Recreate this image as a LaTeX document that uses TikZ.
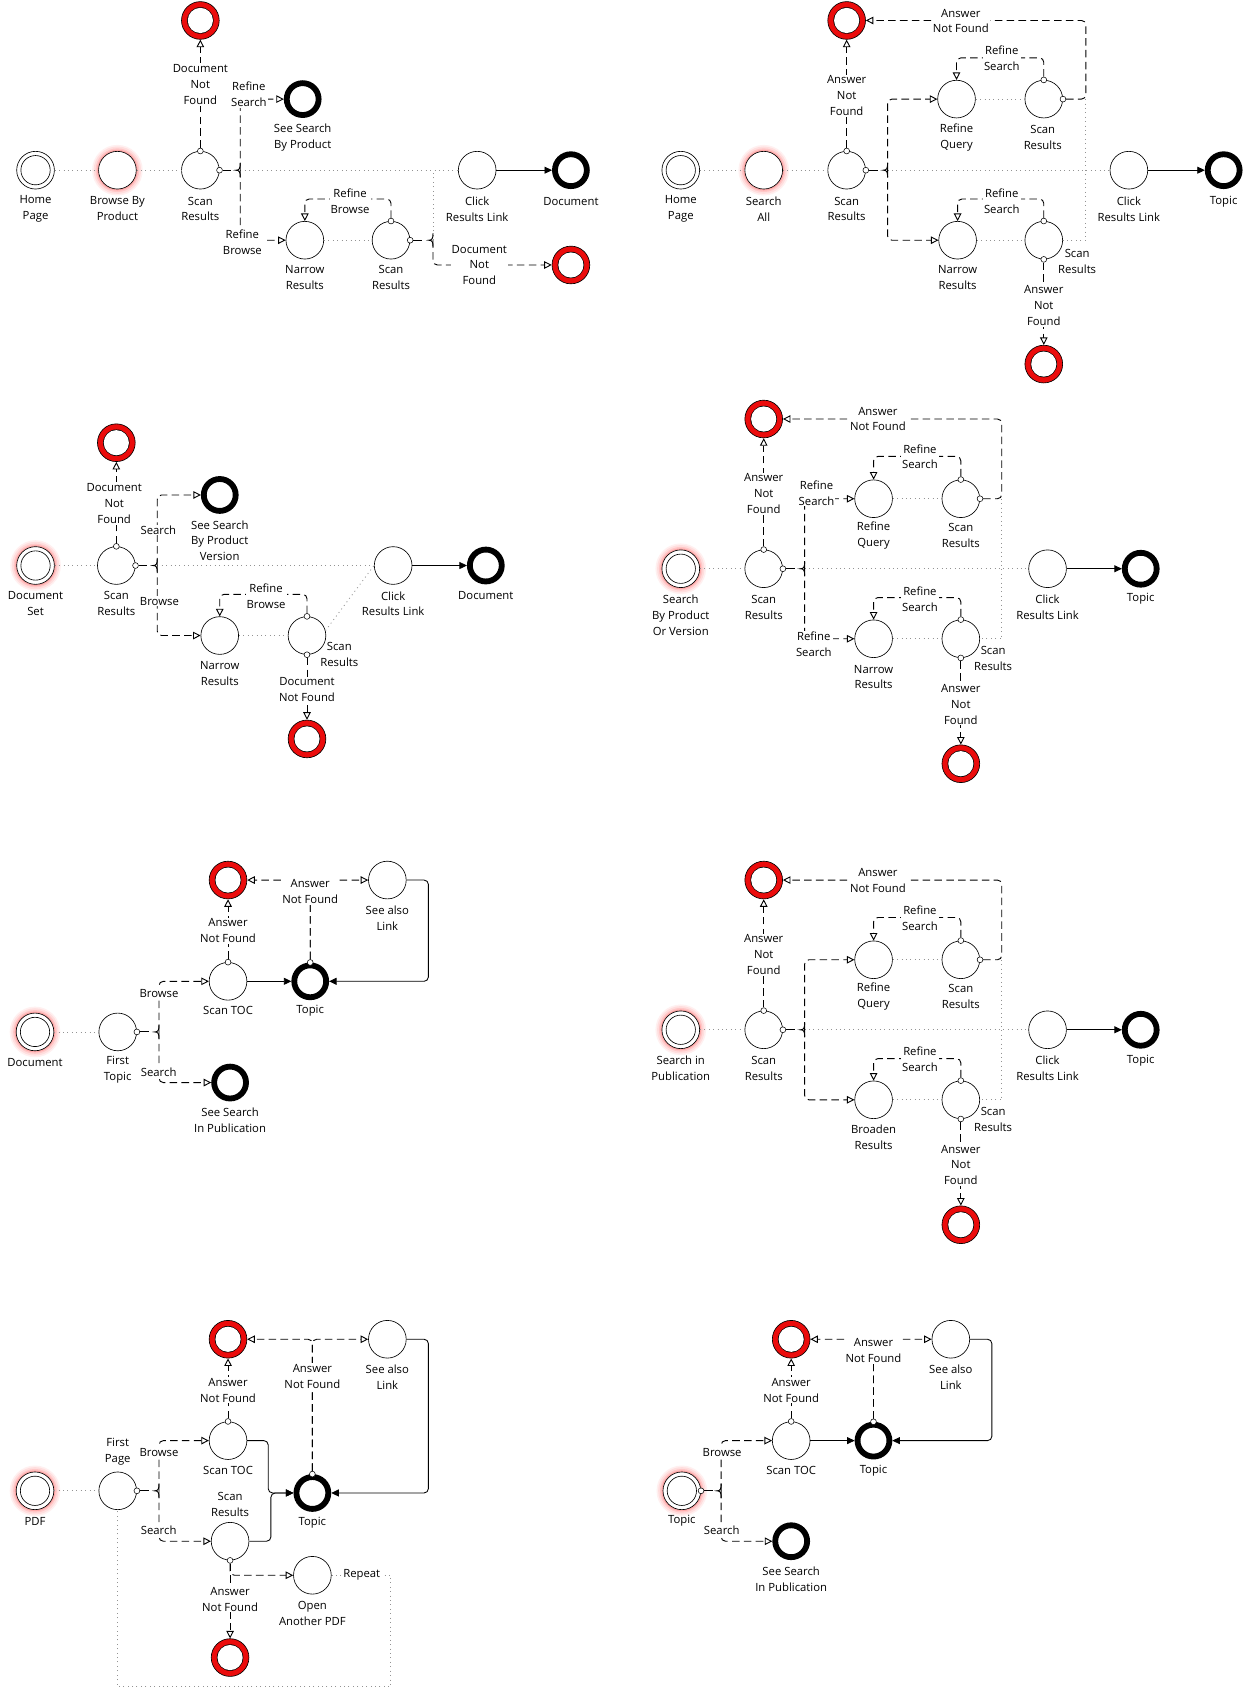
\documentclass[tikz,border=0pt]{standalone}
\usepackage{fontspec}
\setmainfont{Open Sans}
\usetikzlibrary{arrows.meta,calc}
\definecolor{endred}{RGB}{235,12,12}
\newcommand\lbf{\fontsize{10.5pt}{14.8pt}\selectfont}
\newcommand\glow[1]{\fill[red!6] #1 circle[radius=23.5pt]; \fill[red!13] #1 circle[radius=22pt]; \fill[red!22] #1 circle[radius=20.3pt]; \fill[red!34] #1 circle[radius=18.9pt];}
\newcommand\fork[1]{\draw[conn] ($(#1)+(0,-6.5)$) .. controls ($(#1)+(0,-1.5)$) and ($(#1)+(-0.8,0)$) .. ($(#1)+(-4,0)$) .. controls ($(#1)+(-0.8,0)$) and ($(#1)+(0,1.5)$) .. ($(#1)+(0,6.5)$);}
\tikzset{
 act/.style={circle, draw, line width=0.6pt, fill=white, minimum size=35pt, inner sep=0pt},
 startn/.style={act, path picture={\draw[line width=0.6pt] (path picture bounding box.center) circle[radius=13.6pt];}},
 fail/.style={circle, draw, line width=0.6pt, fill=endred, minimum size=35pt, inner sep=0pt, path picture={\fill[black] (path picture bounding box.center) circle[radius=12.3pt]; \fill[white] (path picture bounding box.center) circle[radius=11.7pt];}},
 okend/.style={circle, draw, line width=5.4pt, fill=white, minimum size=29.6pt, inner sep=0pt},
 port/.style={circle, draw, line width=0.5pt, fill=white, minimum size=5.4pt, inner sep=0pt},
 lbl/.style={align=center, font=\lbf, inner sep=1pt},
 onl/.style={lbl, fill=white},
 seq/.style={draw=gray!85, line width=0.75pt, dash pattern=on 0.9pt off 3.2pt},
 alt/.style={draw, line width=0.85pt, dash pattern=on 7pt off 4pt, rounded corners=4pt, -{Triangle[length=7pt,width=7pt,fill=white]}},
 flow/.style={draw, line width=0.8pt, rounded corners=4pt, -{Triangle[length=7pt,width=6.5pt]}},
 conn/.style={draw, line width=0.85pt},
}
\begin{document}
\begin{tikzpicture}[x=1pt,y=-1pt]
\useasboundingbox (0,0) rectangle (1156,1568);
\fill[white] (0,0) rectangle (1156,1568);

% ================= Diagram A =================
\glow{(109,158)}
\node[startn] (HA) at (33,158) {};
\node[act] (BA) at (109,158) {};
\node[act] (SA1) at (186,158) {};
\node[fail] (EA1) at (186,19) {};
\node[okend] (SSA) at (281,92) {};
\node[act] (NA) at (283,223) {};
\node[act] (SA2) at (363,223) {};
\node[act] (CA) at (443,158) {};
\node[okend] (DA) at (530,158) {};
\node[fail] (EA2) at (530,246) {};
\coordinate (fA) at (223,158);
\coordinate (fA2) at (402,223);
\coordinate (jA) at (402,158);
\draw[seq] (HA) -- (BA);
\draw[seq] (BA) -- (SA1);
\draw[seq] (fA) -- (CA);
\draw[seq] (NA) -- (SA2);
\draw[seq] (fA2) -- (jA);
\node[port] (pA1n) at (SA1.north) {};
\node[port] (pA1e) at (SA1.east) {};
\node[port] (pA2n) at (SA2.north) {};
\node[port] (pA2e) at (SA2.east) {};
\draw[alt] (pA1n.north) -- (EA1.south);
\draw[conn] (pA1e.east) -- ++(8,0);
\fork{fA}
\draw[alt] (fA) |- (SSA.west);
\draw[alt] (fA) |- (NA.west);
\draw[alt] (pA2n.north) -- ++(0,-17.5) -| (NA.north);
\draw[conn] (pA2e.east) -- ++(8,0);
\fork{fA2}
\draw[alt] (fA2) |- (EA2.west);
\draw[flow] (CA) -- (DA);
\node[lbl] (tA1) at (33,194) {Home\\Page};
\node[lbl] (tA2) at (109,194) {Browse By\\Product};
\node[lbl] (tA3) at (186,194) {Scan\\Results};
\node[onl] (tA4) at (186,78.5) {Document\\Not\\Found};
\node[onl] (tA5) at (231,87.5) {Refine\\Search};
\node[lbl] (tA6) at (281,127.5) {See Search\\By Product};
\node[onl] (tA7) at (225,224.5) {Refine\\Browse};
\node[lbl] (tA8) at (283,258) {Narrow\\Results};
\node[lbl] (tA9) at (363,258) {Scan\\Results};
\node[onl] (tA10) at (325,186.5) {Refine\\Browse};
\node[lbl] (tA11) at (443,194) {Click\\Results Link};
\node[lbl] (tA12) at (530,187) {Document};
\node[onl] (tA13) at (445,246) {Document\\Not\\Found};

% ================= Diagram B =================
\glow{(709,158)}
\node[startn] (HB) at (632,158) {};
\node[act] (SB) at (709,158) {};
\node[act] (SB1) at (786,158) {};
\node[fail] (EB1) at (786,19) {};
\node[act] (RQB) at (888,92) {};
\node[act] (SB2) at (969,92) {};
\node[act] (NB) at (889,223) {};
\node[act] (SB3) at (969,223) {};
\node[fail] (EB2) at (969,338) {};
\node[act] (CB) at (1048,158) {};
\node[okend] (TB) at (1136,158) {};
\coordinate (fB) at (824,158);
\coordinate (jB) at (1008,92);
\draw[seq] (HB) -- (SB);
\draw[seq] (SB) -- (SB1);
\draw[seq] (fB) -- (CB);
\draw[seq] (RQB) -- (SB2);
\draw[seq] (NB) -- (SB3);
\draw[seq] (jB) |- (SB3.east);
\node[port] (pB1n) at (SB1.north) {};
\node[port] (pB1e) at (SB1.east) {};
\node[port] (pB2n) at (SB2.north) {};
\node[port] (pB2e) at (SB2.east) {};
\node[port] (pB3n) at (SB3.north) {};
\node[port] (pB3s) at (SB3.south) {};
\draw[alt] (pB1n.north) -- (EB1.south);
\draw[conn] (pB1e.east) -- ++(8,0);
\fork{fB}
\draw[alt] (fB) |- (RQB.west);
\draw[alt] (fB) |- (NB.west);
\draw[alt] (pB2n.north) -- ++(0,-17.5) -| (RQB.north);
\draw[alt] (pB2e.east) -- (jB) |- (EB1.east);
\draw[alt] (pB3n.north) -- ++(0,-17.5) -| (NB.north);
\draw[alt] (pB3s.south) -- (EB2.north);
\draw[flow] (CB) -- (TB);
\node[lbl] (tB1) at (632,194) {Home\\Page};
\node[lbl] (tB2) at (709,194) {Search\\All};
\node[lbl] (tB3) at (786,194) {Scan\\Results};
\node[onl] (tB4) at (786,89) {Answer\\Not\\Found};
\node[lbl] (tB5) at (888,128) {Refine\\Query};
\node[lbl] (tB6) at (968,128) {Scan\\Results};
\node[onl] (tB7) at (930,54) {Refine\\Search};
\node[onl] (tB8) at (892,19.5) {Answer\\Not Found};
\node[lbl] (tB9) at (889,258) {Narrow\\Results};
\node[lbl] (tB10) at (1000,242.5) {Scan\\Results};
\node[onl] (tB11) at (930,186.5) {Refine\\Search};
\node[onl] (tB12) at (969,284) {Answer\\Not\\Found};
\node[lbl] (tB13) at (1048,194) {Click\\Results Link};
\node[lbl] (tB14) at (1136,187) {Topic};

% ================= Diagram C =================
\glow{(33,525)}
\node[startn] (DS) at (33,525) {};
\node[act] (SC1) at (108,525) {};
\node[fail] (EC1) at (108,411) {};
\node[okend] (SSC) at (204,459.5) {};
\node[act] (NC) at (204,590) {};
\node[act] (SC2) at (285,590) {};
\node[fail] (EC2) at (285,686) {};
\node[act] (CC) at (365,525) {};
\node[okend] (DC) at (451,525) {};
\coordinate (fC) at (146,525);
\draw[seq] (DS) -- (SC1);
\draw[seq] (fC) -- (CC);
\draw[seq] (NC) -- (SC2);
\draw[seq] (SC2.15) -- (CC.west);
\node[port] (pC1n) at (SC1.north) {};
\node[port] (pC1e) at (SC1.east) {};
\node[port] (pC2n) at (SC2.north) {};
\node[port] (pC2s) at (SC2.south) {};
\draw[alt] (pC1n.north) -- (EC1.south);
\draw[conn] (pC1e.east) -- ++(8,0);
\fork{fC}
\draw[alt] (fC) |- (SSC.west);
\draw[alt] (fC) |- (NC.west);
\draw[alt] (pC2n.north) -- ++(0,-17.5) -| (NC.north);
\draw[alt] (pC2s.south) -- (EC2.north);
\draw[flow] (CC) -- (DC);
\node[lbl] (tC1) at (33,560.5) {Document\\Set};
\node[lbl] (tC2) at (108,560.5) {Scan\\Results};
\node[onl] (tC3) at (106,467.5) {Document\\Not\\Found};
\node[onl] (tC4) at (147,492) {Search};
\node[lbl] (tC5) at (204,502) {See Search\\By Product\\Version};
\node[onl] (tC6) at (148,558) {Browse};
\node[lbl] (tC7) at (204,625.5) {Narrow\\Results};
\node[lbl] (tC8) at (315,608) {Scan\\Results};
\node[onl] (tC9) at (247,553.5) {Refine\\Browse};
\node[onl] (tC10) at (285,640.5) {Document\\Not Found};
\node[lbl] (tC11) at (365,560.5) {Click\\Results Link};
\node[lbl] (tC12) at (451,553) {Document};

% ================= Diagram D =================
\glow{(632,528)}
\node[startn] (SD) at (632,528) {};
\node[act] (SD1) at (709,528) {};
\node[fail] (ED1) at (709,389) {};
\node[act] (RQD) at (811,463) {};
\node[act] (SD2) at (892,463) {};
\node[act] (ND) at (811,593) {};
\node[act] (SD3) at (892,593) {};
\node[fail] (ED2) at (892,709) {};
\node[act] (CD) at (972.5,528) {};
\node[okend] (TD) at (1059,528) {};
\coordinate (fD) at (747,528);
\coordinate (jD) at (930,463);
\draw[seq] (SD) -- (SD1);
\draw[seq] (fD) -- (CD);
\draw[seq] (RQD) -- (SD2);
\draw[seq] (ND) -- (SD3);
\draw[seq] (jD) |- (SD3.east);
\node[port] (pD1n) at (SD1.north) {};
\node[port] (pD1e) at (SD1.east) {};
\node[port] (pD2n) at (SD2.north) {};
\node[port] (pD2e) at (SD2.east) {};
\node[port] (pD3n) at (SD3.north) {};
\node[port] (pD3s) at (SD3.south) {};
\draw[alt] (pD1n.north) -- (ED1.south);
\draw[conn] (pD1e.east) -- ++(8,0);
\fork{fD}
\draw[alt] (fD) |- (RQD.west);
\draw[alt] (fD) |- (ND.west);
\draw[alt] (pD2n.north) -- ++(0,-18.5) -| (RQD.north);
\draw[alt] (pD2e.east) -- (jD) |- (ED1.east);
\draw[alt] (pD3n.north) -- ++(0,-17.5) -| (ND.north);
\draw[alt] (pD3s.south) -- (ED2.north);
\draw[flow] (CD) -- (TD);
\node[lbl] (tD1) at (632,571) {Search\\By Product\\Or Version};
\node[lbl] (tD2) at (709,563.5) {Scan\\Results};
\node[onl] (tD3) at (709,458.5) {Answer\\Not\\Found};
\node[onl] (tD4) at (758,457.5) {Refine\\Search};
\node[lbl] (tD5) at (811,497.5) {Refine\\Query};
\node[lbl] (tD6) at (892,497.5) {Scan\\Results};
\node[onl] (tD7) at (854,424) {Refine\\Search};
\node[onl] (tD8) at (815,389) {Answer\\Not Found};
\node[onl] (tD9) at (755.5,598) {Refine\\Search};
\node[lbl] (tD10) at (811,628.5) {Narrow\\Results};
\node[lbl] (tD11) at (922,611.5) {Scan\\Results};
\node[onl] (tD12) at (854,556) {Refine\\Search};
\node[onl] (tD13) at (892,653.7) {Answer\\Not\\Found};
\node[lbl] (tD14) at (972.5,563.5) {Click\\Results Link};
\node[lbl] (tD15) at (1059,556) {Topic};

% ================= Diagram F =================
\glow{(632,956)}
\node[startn] (SF) at (632,956) {};
\node[act] (SF1) at (709,956) {};
\node[fail] (EF1) at (709,817) {};
\node[act] (RQF) at (811,891) {};
\node[act] (SF2) at (892,891) {};
\node[act] (BF) at (811,1021) {};
\node[act] (SF3) at (892,1021) {};
\node[fail] (EF2) at (892,1137) {};
\node[act] (CF) at (972.5,956) {};
\node[okend] (TF) at (1059,956) {};
\coordinate (fF) at (747,956);
\coordinate (jF) at (930,891);
\draw[seq] (SF) -- (SF1);
\draw[seq] (fF) -- (CF);
\draw[seq] (RQF) -- (SF2);
\draw[seq] (BF) -- (SF3);
\draw[seq] (jF) |- (SF3.east);
\node[port] (pF1n) at (SF1.north) {};
\node[port] (pF1e) at (SF1.east) {};
\node[port] (pF2n) at (SF2.north) {};
\node[port] (pF2e) at (SF2.east) {};
\node[port] (pF3n) at (SF3.north) {};
\node[port] (pF3s) at (SF3.south) {};
\draw[alt] (pF1n.north) -- (EF1.south);
\draw[conn] (pF1e.east) -- ++(8,0);
\fork{fF}
\draw[alt] (fF) |- (RQF.west);
\draw[alt] (fF) |- (BF.west);
\draw[alt] (pF2n.north) -- ++(0,-18.5) -| (RQF.north);
\draw[alt] (pF2e.east) -- (jF) |- (EF1.east);
\draw[alt] (pF3n.north) -- ++(0,-17.5) -| (BF.north);
\draw[alt] (pF3s.south) -- (EF2.north);
\draw[flow] (CF) -- (TF);
\node[lbl] (tF1) at (632,991.5) {Search in\\Publication};
\node[lbl] (tF2) at (709,991.5) {Scan\\Results};
\node[onl] (tF3) at (709,886.5) {Answer\\Not\\Found};
\node[lbl] (tF5) at (811,925.5) {Refine\\Query};
\node[lbl] (tF6) at (892,925.5) {Scan\\Results};
\node[onl] (tF7) at (854,852.5) {Refine\\Search};
\node[onl] (tF8) at (815,817) {Answer\\Not Found};
\node[lbl] (tF10) at (811,1055.5) {Broaden\\Results};
\node[lbl] (tF11) at (922,1039.5) {Scan\\Results};
\node[onl] (tF12) at (854,983) {Refine\\Search};
\node[onl] (tF13) at (892,1081.5) {Answer\\Not\\Found};
\node[lbl] (tF14) at (972.5,991.5) {Click\\Results Link};
\node[lbl] (tF15) at (1059,984.5) {Topic};

% ================= Diagram E =================
\glow{(32.5,958)}
\node[startn] (DE) at (32.5,958) {};
\node[act] (FT) at (109.3,958) {};
\node[act] (STE) at (211.7,911) {};
\node[fail] (EE) at (211.7,817) {};
\node[okend] (TE) at (288,911) {};
\node[act] (SAE) at (359.6,817) {};
\node[okend] (SSE) at (213.6,1005) {};
\coordinate (fE) at (147.6,958);
\coordinate (kE) at (397.7,817);
\draw[seq] (DE) -- (FT);
\node[port] (pFTe) at (FT.east) {};
\node[port] (pSTEn) at (STE.north) {};
\node[port] (pTEn) at (TE.north) {};
\draw[conn] (pFTe.east) -- ++(8,0);
\fork{fE}
\draw[alt] (fE) |- (STE.west);
\draw[alt] (fE) |- (SSE.west);
\draw[alt] (pSTEn.north) -- (EE.south);
\draw[alt] (pTEn.north) |- (EE.east);
\draw[alt] (pTEn.north) |- (SAE.west);
\draw[flow] (STE) -- (TE);
\draw[flow] (SAE.east) -- (kE) |- (TE.east);
\node[lbl] (tE1) at (32.5,986) {Document};
\node[lbl] (tE2) at (109.3,993) {First\\Topic};
\node[onl] (tE3) at (147.6,922) {Browse};
\node[onl] (tE4) at (147.3,995) {Search};
\node[lbl] (tE5) at (211.7,938.5) {Scan TOC};
\node[onl] (tE6) at (211.7,864) {Answer\\Not Found};
\node[lbl] (tE7) at (288,938.5) {Topic};
\node[onl] (tE8) at (288,828) {Answer\\Not Found};
\node[lbl] (tE9) at (359.6,852) {See also\\Link};
\node[lbl] (tE10) at (213.6,1040) {See Search\\In Publication};

% ================= Diagram G =================
\glow{(32.5,1384)}
\node[startn] (PDF) at (32.5,1384) {};
\node[act] (FP) at (109.3,1384) {};
\node[act] (STG) at (211.7,1337.4) {};
\node[fail] (EG1) at (211.7,1243.3) {};
\node[act] (SRG) at (213.6,1430.8) {};
\node[okend] (TG) at (290,1386) {};
\node[act] (SAG) at (359.6,1243.3) {};
\node[act] (OP) at (290,1462.4) {};
\node[fail] (EG2) at (213.6,1538.8) {};
\coordinate (fG) at (147.6,1384);
\coordinate (kG1) at (249,1337.4);
\coordinate (kG2) at (251.5,1430.8);
\coordinate (kG3) at (397.7,1243.3);
\coordinate (rG1) at (362.7,1566);
\coordinate (rG2) at (109.3,1566);
\draw[seq] (PDF) -- (FP);
\draw[seq] (OP.east) -| (rG1) -- (rG2) -- (FP.south);
\node[port] (pFPe) at (FP.east) {};
\node[port] (pSTGn) at (STG.north) {};
\node[port] (pTGn) at (TG.north) {};
\node[port] (pSRGs) at (SRG.south) {};
\draw[conn] (pFPe.east) -- ++(8,0);
\fork{fG}
\draw[alt] (fG) |- (STG.west);
\draw[alt] (fG) |- (SRG.west);
\draw[alt] (pSTGn.north) -- (EG1.south);
\draw[alt] (pTGn.north) |- (EG1.east);
\draw[alt] (pTGn.north) |- (SAG.west);
\draw[alt] (pSRGs.south) -- (EG2.north);
\draw[alt] (pSRGs.south) |- (OP.west);
\draw[flow] (STG.east) -- (kG1) |- (TG.west);
\draw[flow] (SRG.east) -- (kG2) |- (TG.west);
\draw[flow] (SAG.east) -- (kG3) |- (TG.east);
\node[lbl] (tG1) at (32.5,1412) {PDF};
\node[lbl] (tG2) at (109.3,1347.3) {First\\Page};
\node[onl] (tG3) at (147.6,1348.5) {Browse};
\node[onl] (tG4) at (147.3,1421) {Search};
\node[lbl] (tG5) at (211.7,1365) {Scan TOC};
\node[onl] (tG6) at (211.7,1290.6) {Answer\\Not Found};
\node[lbl] (tG7) at (213.6,1396.5) {Scan\\Results};
\node[lbl] (tG8) at (290,1414) {Topic};
\node[onl] (tG9) at (290,1277.5) {Answer\\Not Found};
\node[lbl] (tG10) at (359.6,1278.5) {See also\\Link};
\node[onl] (tG11) at (213.6,1484.5) {Answer\\Not Found};
\node[lbl] (tG12) at (290,1497.7) {Open\\Another PDF};
\node[onl] (tG13) at (335.8,1462.4) {Repeat};

% ================= Diagram H =================
\glow{(633,1384)}
\node[startn] (TS) at (633,1384) {};
\node[act] (STH) at (734.5,1337.4) {};
\node[fail] (EH) at (734.5,1243.3) {};
\node[okend] (TH) at (810.9,1337.4) {};
\node[act] (SAH) at (882.7,1243.3) {};
\node[okend] (SSH) at (734.5,1430.8) {};
\coordinate (fH) at (669.5,1384);
\coordinate (kH) at (920.8,1243.3);
\node[port] (pTSe) at (TS.east) {};
\node[port] (pSTHn) at (STH.north) {};
\node[port] (pTHn) at (TH.north) {};
\draw[conn] (pTSe.east) -- ++(8,0);
\fork{fH}
\draw[alt] (fH) |- (STH.west);
\draw[alt] (fH) |- (SSH.west);
\draw[alt] (pSTHn.north) -- (EH.south);
\draw[alt] (pTHn.north) |- (EH.east);
\draw[alt] (pTHn.north) |- (SAH.west);
\draw[flow] (STH) -- (TH);
\draw[flow] (SAH.east) -- (kH) |- (TH.east);
\node[lbl] (tH1) at (633,1412) {Topic};
\node[onl] (tH2) at (670.4,1348.5) {Browse};
\node[onl] (tH3) at (670,1421) {Search};
\node[lbl] (tH4) at (734.5,1365) {Scan TOC};
\node[onl] (tH5) at (734.5,1290.6) {Answer\\Not Found};
\node[lbl] (tH6) at (810.9,1365) {Topic};
\node[onl] (tH7) at (810.9,1254) {Answer\\Not Found};
\node[lbl] (tH8) at (882.7,1278.5) {See also\\Link};
\node[lbl] (tH9) at (734.5,1466) {See Search\\In Publication};
\end{tikzpicture}
\end{document}
